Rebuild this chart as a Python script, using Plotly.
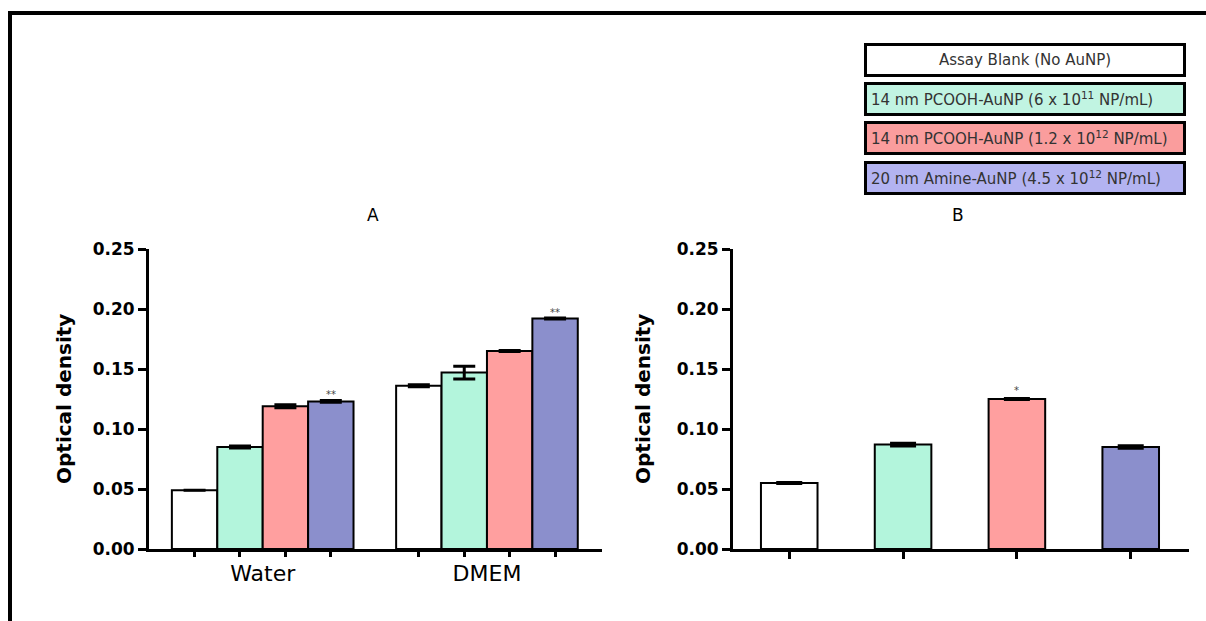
import plotly.graph_objects as go

W, H = 1206, 621

# ---- data ----
groups_a = ["Water", "DMEM"]
series_names = [
    "Assay Blank (No AuNP)",
    "14 nm PCOOH-AuNP (6 x 10<sup>11</sup> NP/mL)",
    "14 nm PCOOH-AuNP (1.2 x 10<sup>12</sup> NP/mL)",
    "20 nm Amine-AuNP (4.5 x 10<sup>12</sup> NP/mL)",
]

# panel A: optical density per medium
a_blank = [0.049, 0.136]
a_pcooh_low = [0.085, 0.147]
a_pcooh_high = [0.119, 0.165]
a_amine = [0.123, 0.192]
a_blank_err = [0.0, 0.0008]
a_pcooh_low_err = [0.0008, 0.0053]
a_pcooh_high_err = [0.0012, 0.0004]
a_amine_err = [0.0008, 0.0004]
a_amine_sig = ["**", "**"]

# panel B: optical density per treatment
b_values = [0.055, 0.087, 0.125, 0.085]
b_err = [0.0004, 0.0012, 0.0004, 0.0010]
b_sig = ["", "", "*", ""]

y_ticks = [0.00, 0.05, 0.10, 0.15, 0.20, 0.25]

# ---- styling ----
bar_colors = ["#ffffff", "#b3f5dc", "#ff9f9f", "#8b8fcc"]
legend_colors = ["#ffffff", "#c1f4e2", "#fa9d9d", "#b3b3f1"]
FONT = "DejaVu Sans"


def px(x):
    return x / W


def py(y):
    return 1 - y / H


dom_a = [px(149), px(602)]
dom_b = [px(733), px(1189)]
dom_y = [py(549), py(249)]
range_a = [-0.507, 1.513]
range_b = [-0.494, 3.512]
bargap_a = 0.19
bar_w_a = (1 - bargap_a) / 4

a_values = [a_blank, a_pcooh_low, a_pcooh_high, a_amine]
a_errors = [a_blank_err, a_pcooh_low_err, a_pcooh_high_err, a_amine_err]

fig = go.Figure()

for k in range(4):
    fig.add_trace(go.Bar(
        x=groups_a, y=a_values[k], name=series_names[k],
        marker=dict(color=bar_colors[k], line=dict(color="black", width=2)),
        error_y=dict(type="data", array=a_errors[k], color="black",
                     thickness=3, width=11),
        xaxis="x", yaxis="y", showlegend=False,
    ))

# bar centres in panel A, used for the small ticks under each bar
centres_a = [g + (k - 1.5) * bar_w_a for g in range(len(groups_a)) for k in range(4)]
fig.add_trace(go.Scatter(
    x=centres_a, y=[0] * len(centres_a), mode="markers",
    marker=dict(opacity=0), hoverinfo="skip", showlegend=False,
    xaxis="x3", yaxis="y",
))

fig.add_trace(go.Bar(
    x=series_names, y=b_values, width=0.497,
    marker=dict(color=bar_colors, line=dict(color="black", width=2)),
    error_y=dict(type="data", array=b_err, color="black", thickness=3, width=13),
    xaxis="x2", yaxis="y2", showlegend=False,
))

yaxis_common = dict(
    range=[0, 0.25], tickvals=y_ticks, tickformat=".2f",
    ticks="outside", ticklen=8, tickwidth=3, tickcolor="black",
    showline=True, linewidth=3, linecolor="black",
    showgrid=False, zeroline=False,
    tickfont=dict(family=FONT, size=17, color="black", weight="bold"),
    domain=dom_y, automargin=False,
)

annotations = []

# significance marks
for g, mark in enumerate(a_amine_sig):
    if mark:
        annotations.append(dict(
            x=g + 1.5 * bar_w_a, y=a_amine[g] + a_amine_err[g], xref="x3", yref="y",
            text=mark, showarrow=False, yanchor="middle", yshift=6,
            font=dict(family=FONT, size=10, color="#444"),
        ))
for i, mark in enumerate(b_sig):
    if mark:
        annotations.append(dict(
            x=series_names[i], y=b_values[i] + b_err[i], xref="x2", yref="y2",
            text=mark, showarrow=False, yanchor="middle", yshift=8,
            font=dict(family=FONT, size=10, color="#444"),
        ))

# panel titles and axis titles
for label, xc in [("A", 372.7), ("B", 958)]:
    annotations.append(dict(
        x=px(xc), y=py(215), xref="paper", yref="paper", text=label,
        showarrow=False, xanchor="center", yanchor="middle",
        font=dict(family=FONT, size=17, color="black"),
    ))
for xc in [64, 643]:
    annotations.append(dict(
        x=px(xc), y=py(399), xref="paper", yref="paper", text="Optical density",
        showarrow=False, textangle=-90, xanchor="center", yanchor="middle",
        font=dict(family=FONT, size=20, color="black", weight="bold"),
    ))

# legend boxes
legend_tops = [43, 82, 121, 161]
for k in range(4):
    annotations.append(dict(
        x=px(864), y=py(legend_tops[k]), xref="paper", yref="paper",
        text=series_names[k], showarrow=False,
        xanchor="left", yanchor="top",
        width=308, height=20, align="center" if k == 0 else "left",
        bgcolor=legend_colors[k], bordercolor="black", borderwidth=3, borderpad=4,
        font=dict(family=FONT, size=15, color="#333"),
    ))

shapes = [
    dict(type="line", xref="paper", yref="paper", x0=px(8), x1=1, y0=py(13), y1=py(13),
         line=dict(color="black", width=4)),
    dict(type="line", xref="paper", yref="paper", x0=px(10), x1=px(10), y0=py(11), y1=0,
         line=dict(color="black", width=4)),
]

fig.update_layout(
    width=W, height=H,
    margin=dict(l=0, r=0, t=0, b=0),
    paper_bgcolor="white", plot_bgcolor="white",
    barmode="group", bargap=bargap_a, bargroupgap=0,
    font=dict(family=FONT, color="black"),
    xaxis=dict(
        domain=dom_a, anchor="y", range=range_a, type="category",
        showline=True, linewidth=3, linecolor="black",
        ticks="outside", ticklen=3, tickcolor="rgba(0,0,0,0)",
        showgrid=False, zeroline=False, automargin=False,
        tickfont=dict(family=FONT, size=22, color="black"),
    ),
    xaxis3=dict(
        domain=dom_a, anchor="y", overlaying="x", range=range_a, type="linear",
        tickvals=centres_a, showticklabels=False,
        ticks="outside", ticklen=7, tickwidth=3, tickcolor="black",
        showline=False, showgrid=False, zeroline=False, automargin=False,
    ),
    xaxis2=dict(
        domain=dom_b, anchor="y2", range=range_b, type="category",
        showline=True, linewidth=3, linecolor="black",
        ticks="outside", ticklen=7, tickwidth=3, tickcolor="black",
        showticklabels=False, showgrid=False, zeroline=False, automargin=False,
    ),
    yaxis=dict(anchor="x", **yaxis_common),
    yaxis2=dict(anchor="x2", **yaxis_common),
    annotations=annotations,
    shapes=shapes,
)

fig.write_html("out.html")
